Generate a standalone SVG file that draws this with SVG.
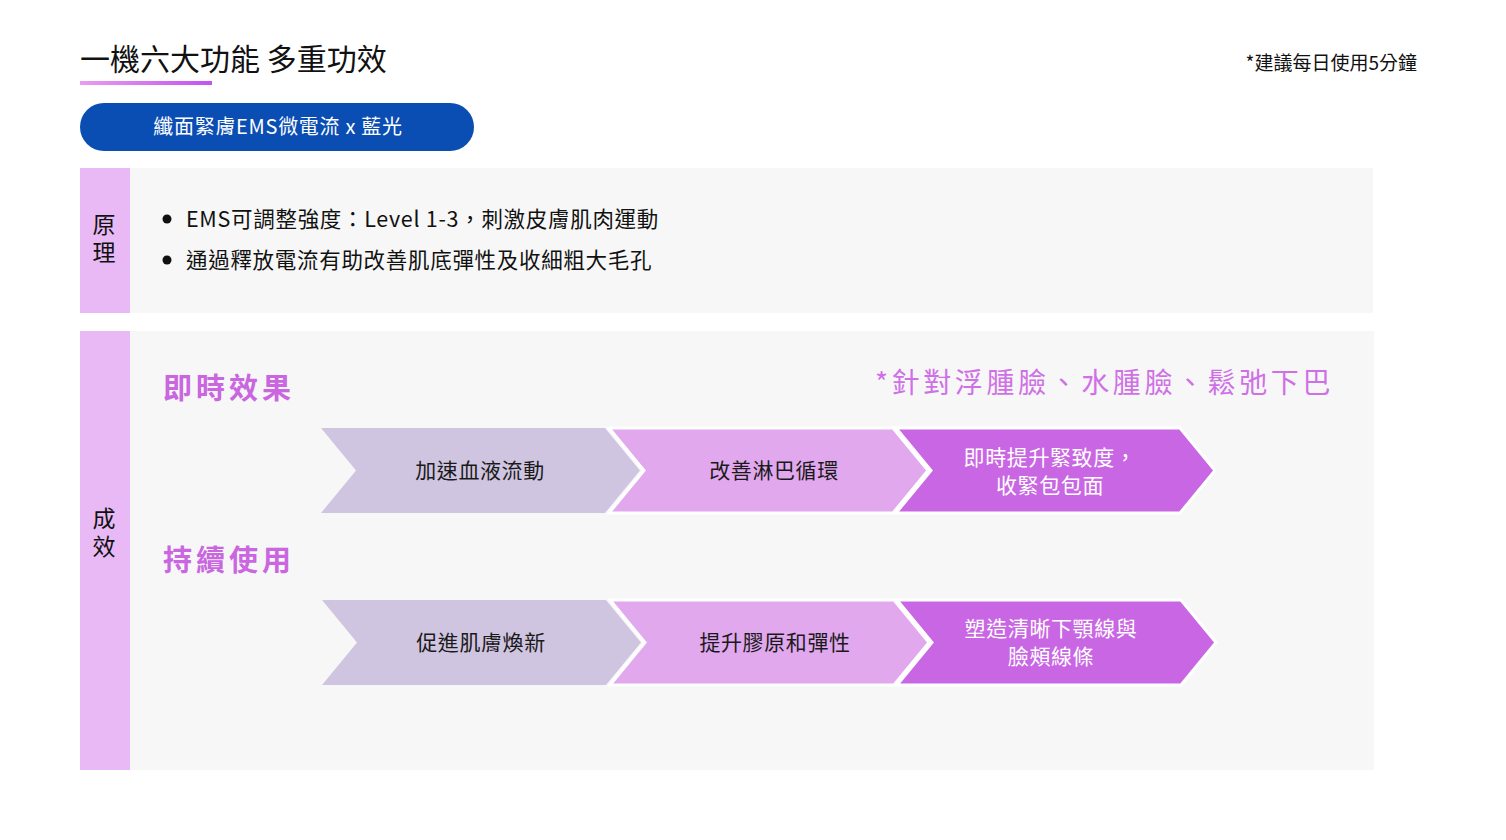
<svg xmlns="http://www.w3.org/2000/svg" width="1506" height="840" viewBox="0 0 1506 840">
<defs>
<linearGradient id="ul" x1="0" y1="0" x2="1" y2="0">
<stop offset="0" stop-color="#ea9cf0"/>
<stop offset="1" stop-color="#c452f2"/>
</linearGradient>
<polygon id="chev" points="0,0 284,0 319,42.5 284,85 0,85 35,42.5"/>
</defs>
<style>
text{font-family:"Noto Sans CJK TC","Noto Sans",sans-serif;}
.title{font-size:30px;fill:#111;}
.note{font-size:19px;fill:#111;}
.pill{font-size:20px;fill:#fff;letter-spacing:0.7px;}
.side{font-size:23px;fill:#111;writing-mode:vertical-rl;letter-spacing:5px;}
.bul{font-size:21.5px;fill:#111;letter-spacing:0.7px;}
.head{font-size:29px;font-weight:bold;fill:#c966e0;letter-spacing:4px;}
.tag{font-size:28px;fill:#cf70e6;letter-spacing:3.6px;text-anchor:end;}
.ct{font-size:21px;fill:#1a1a1a;text-anchor:middle;letter-spacing:0.6px;}
.cw{font-size:21px;fill:#fff;text-anchor:middle;letter-spacing:0.6px;}
.c1{fill:#d0c5e1;}
.c2{fill:#e1a8ee;stroke:#fff;stroke-width:3;}
.c3{fill:#c966e3;stroke:#fff;stroke-width:3;}
</style>
<rect width="1506" height="840" fill="#fff"/>
<g id="header">
<text class="title" x="80" y="70">一機六大功能 多重功效</text>
<rect x="80" y="81" width="132" height="4" fill="url(#ul)"/>
<text class="note" x="1417" y="70" text-anchor="end">*建議每日使用5分鐘</text>
</g>
<g id="pill">
<rect x="80" y="103" width="394" height="48" rx="24" fill="#0a4db3"/>
<text class="pill" x="278" y="134" text-anchor="middle">纖面緊膚EMS微電流 x 藍光</text>
</g>
<g id="principle">
<rect x="130" y="168" width="1243" height="145" fill="#f7f7f7"/>
<rect x="80" y="168" width="50" height="145" fill="#e8b9f5"/>
<text class="side" x="104" y="213">原理</text>
<circle cx="167" cy="219" r="4.5" fill="#111"/>
<circle cx="167" cy="260" r="4.5" fill="#111"/>
<text class="bul" x="186" y="227">EMS可調整強度：Level 1-3，刺激皮膚肌肉運動</text>
<text class="bul" x="186" y="268">通過釋放電流有助改善肌底彈性及收細粗大毛孔</text>
</g>
<g id="effects">
<rect x="130" y="331" width="1244" height="439" fill="#f7f7f7"/>
<rect x="80" y="331" width="50" height="439" fill="#e8b9f5"/>
<text class="side" x="104" y="507">成效</text>
<text class="head" x="163" y="399">即時效果</text>
<text class="head" x="163" y="571">持續使用</text>
<text class="tag" x="1334" y="393">*針對浮腫臉、水腫臉、鬆弛下巴</text>
</g>
<g id="connectors"></g>
<g id="row1">
<g id="n1"><use href="#chev" class="c1" x="321" y="428"/><text class="ct" x="480" y="478">加速血液流動</text></g>
<g id="n2"><use href="#chev" class="c2" x="609" y="428"/><text class="ct" x="774" y="478">改善淋巴循環</text></g>
<g id="n3"><use href="#chev" class="c3" x="896" y="428"/><text class="cw" x="1050" y="465">即時提升緊致度，</text><text class="cw" x="1050" y="493">收緊包包面</text></g>
</g>
<g id="row2">
<g id="n4"><use href="#chev" class="c1" x="322" y="600"/><text class="ct" x="481" y="650">促進肌膚煥新</text></g>
<g id="n5"><use href="#chev" class="c2" x="610" y="600"/><text class="ct" x="775" y="650">提升膠原和彈性</text></g>
<g id="n6"><use href="#chev" class="c3" x="897" y="600"/><text class="cw" x="1051" y="636">塑造清晰下顎線與</text><text class="cw" x="1051" y="664">臉頰線條</text></g>
</g>
</svg>
